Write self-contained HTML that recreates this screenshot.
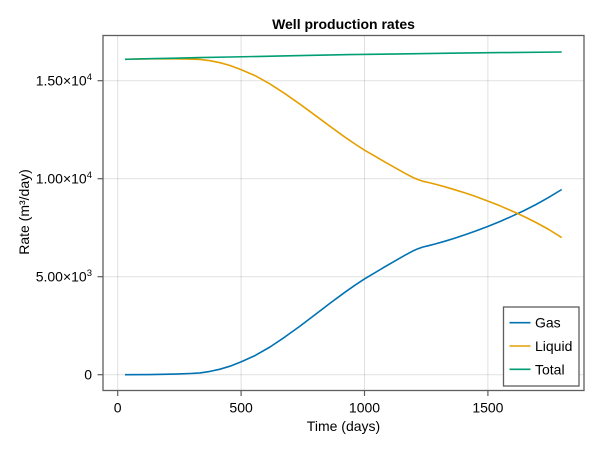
<!DOCTYPE html>
<html>
<head>
<meta charset="utf-8">
<style>
  html, body { margin: 0; padding: 0; background: #ffffff; }
  svg { display: block; }
  text { font-family: "Liberation Sans", "DejaVu Sans", sans-serif; fill: #000; }
</style>
</head>
<body>
<svg width="600" height="450" viewBox="0 0 600 450" xmlns="http://www.w3.org/2000/svg">
  <rect x="0" y="0" width="600" height="450" fill="#ffffff"/>

  <!-- grid -->
  <g stroke="rgba(0,0,0,0.12)" stroke-width="1" fill="none">
    <line x1="117.7" y1="35.5" x2="117.7" y2="390.5"/>
    <line x1="241.1" y1="35.5" x2="241.1" y2="390.5"/>
    <line x1="364.5" y1="35.5" x2="364.5" y2="390.5"/>
    <line x1="487.9" y1="35.5" x2="487.9" y2="390.5"/>
    <line x1="103" y1="374.7" x2="584" y2="374.7"/>
    <line x1="103" y1="276.7" x2="584" y2="276.7"/>
    <line x1="103" y1="178.7" x2="584" y2="178.7"/>
    <line x1="103" y1="80.7" x2="584" y2="80.7"/>
  </g>

  <!-- series -->
  <g fill="none" stroke-width="1.6" stroke-linejoin="round" stroke-linecap="butt">
    <!-- Gas -->
    <polyline stroke="#0072B2" points="125,374.7 150,374.6 175,374.1 190,373.5 200,372.9 210,371.4 220,369.2 230,366.2 241,361.9 255,355.6 270,347 285,336.9 300,326.1 315,314.7 330,303.3 345,292.2 355,285.2 364.5,278.9 375,272.7 385,266.7 395,260.9 405,255.2 413,250.9 418,248.7 423,247 428,245.8 435,244 445,241.2 455,238.1 465,234.8 475,231.3 488,226.4 500,221.5 512,216.2 524,210.6 536,204.5 548,197.8 561.7,189.5"/>
    <!-- Liquid -->
    <polyline stroke="#E69F00" points="125,59.3 150,58.8 175,58.8 190,59.1 200,59.4 210,60.7 220,62.7 230,65.5 241,69.6 255,75.6 270,83.9 285,93.7 300,104.2 315,115.2 330,126.3 345,137.2 355,144 364.5,150.2 375,156.2 385,162.1 395,167.7 405,173.3 413,177.5 418,179.6 423,181.3 428,182.4 435,184.1 445,186.8 455,189.8 465,192.9 475,196.3 488,201.1 500,205.8 512,211 524,216.5 536,222.5 548,229 561.7,237.6"/>
    <!-- Total -->
    <polyline stroke="#009E73" points="125,59.3 150,58.7 175,58.2 200,57.6 230,57 260,56.4 300,55.6 350,54.6 400,53.9 450,53.2 500,52.6 561.7,52"/>
  </g>

  <!-- spines -->
  <rect x="103" y="35.5" width="481" height="355" fill="none" stroke="#5e5e5e" stroke-width="1.3"/>

  <!-- ticks -->
  <g stroke="#5e5e5e" stroke-width="1.2">
    <line x1="117.7" y1="390.5" x2="117.7" y2="396"/>
    <line x1="241.1" y1="390.5" x2="241.1" y2="396"/>
    <line x1="364.5" y1="390.5" x2="364.5" y2="396"/>
    <line x1="487.9" y1="390.5" x2="487.9" y2="396"/>
    <line x1="97.5" y1="374.7" x2="103" y2="374.7"/>
    <line x1="97.5" y1="276.7" x2="103" y2="276.7"/>
    <line x1="97.5" y1="178.7" x2="103" y2="178.7"/>
    <line x1="97.5" y1="80.7" x2="103" y2="80.7"/>
  </g>

  <!-- x tick labels -->
  <g font-size="14" text-anchor="middle">
    <text x="117.7" y="412.5">0</text>
    <text x="241.1" y="412.5">500</text>
    <text x="364.5" y="412.5">1000</text>
    <text x="487.9" y="412.5">1500</text>
  </g>

  <!-- y tick labels -->
  <g font-size="14" text-anchor="end">
    <text x="92" y="379.7">0</text>
    <text x="92" y="281.7">5.00×10<tspan font-size="9.5" dy="-5.5">3</tspan></text>
    <text x="92" y="183.7">1.00×10<tspan font-size="9.5" dy="-5.5">4</tspan></text>
    <text x="92" y="85.7">1.50×10<tspan font-size="9.5" dy="-5.5">4</tspan></text>
  </g>

  <!-- title -->
  <text x="343.5" y="29" font-size="14" font-weight="bold" text-anchor="middle">Well production rates</text>

  <!-- axis labels -->
  <text x="343.5" y="431" font-size="14" text-anchor="middle">Time (days)</text>
  <text transform="translate(29,212) rotate(-90)" font-size="14" text-anchor="middle">Rate (m³/day)</text>

  <!-- legend -->
  <rect x="503.5" y="307" width="75.5" height="79" fill="#ffffff" stroke="#5e5e5e" stroke-width="1.3"/>
  <g stroke-width="1.6">
    <line x1="509.5" y1="322.7" x2="530.5" y2="322.7" stroke="#0072B2"/>
    <line x1="509.5" y1="346" x2="530.5" y2="346" stroke="#E69F00"/>
    <line x1="509.5" y1="369.3" x2="530.5" y2="369.3" stroke="#009E73"/>
  </g>
  <g font-size="14">
    <text x="535" y="327.7">Gas</text>
    <text x="535" y="351">Liquid</text>
    <text x="535" y="374.3">Total</text>
  </g>
</svg>
</body>
</html>
